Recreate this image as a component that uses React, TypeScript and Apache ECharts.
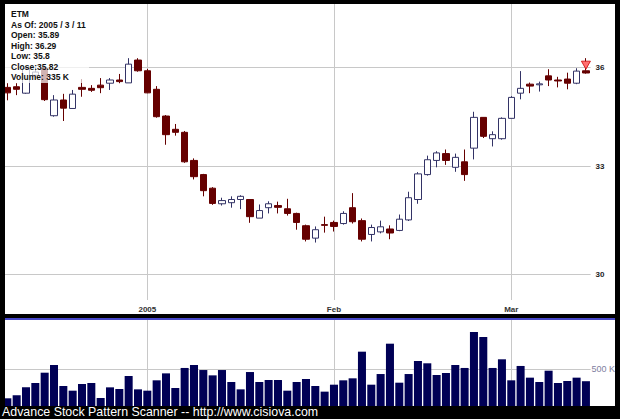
import React, { useEffect, useRef } from "react";
import * as echarts from "echarts";

const dates = [
  "2004-12-10", "2004-12-13", "2004-12-14", "2004-12-15", "2004-12-16", "2004-12-17",
  "2004-12-20", "2004-12-21", "2004-12-22", "2004-12-23", "2004-12-27", "2004-12-28",
  "2004-12-29", "2004-12-30", "2004-12-31",
  "2005-01-03", "2005-01-04", "2005-01-05", "2005-01-06", "2005-01-07", "2005-01-10",
  "2005-01-11", "2005-01-12", "2005-01-13", "2005-01-14", "2005-01-18", "2005-01-19",
  "2005-01-20", "2005-01-21", "2005-01-24", "2005-01-25", "2005-01-26", "2005-01-27",
  "2005-01-28", "2005-01-31",
  "2005-02-01", "2005-02-02", "2005-02-03", "2005-02-04", "2005-02-07", "2005-02-08",
  "2005-02-09", "2005-02-10", "2005-02-11", "2005-02-14", "2005-02-15", "2005-02-16",
  "2005-02-17", "2005-02-18", "2005-02-22", "2005-02-23", "2005-02-24", "2005-02-25",
  "2005-02-28",
  "2005-03-01", "2005-03-02", "2005-03-03", "2005-03-04", "2005-03-07", "2005-03-08",
  "2005-03-09", "2005-03-10", "2005-03-11",
];

const opens = [
  35.37, 35.39, 35.19, 35.75, 35.97, 34.5, 34.98, 34.72, 35.37, 35.34,
  35.44, 35.5, 35.6, 35.51, 36.23, 35.89, 35.31, 34.49, 34.09, 34.0,
  33.17, 32.76, 32.37, 31.93, 31.96, 32.05, 32.05, 31.53, 31.82, 31.88,
  31.79, 31.66, 31.32, 30.98, 31.35, 31.41, 31.38, 31.82, 31.46, 31.08,
  31.15, 31.23, 31.19, 31.48, 32.05, 32.76, 33.17, 33.37, 32.97, 33.13,
  33.53, 34.45, 33.81, 33.81, 34.42, 35.19, 35.47, 35.45, 35.73, 35.6,
  35.63, 35.5, 35.89,
];
const closes = [
  35.2, 35.31, 35.96, 35.85, 34.99, 34.98, 34.73, 35.16, 35.31, 35.28,
  35.36, 35.6, 35.55, 36.1, 35.89, 35.2, 34.47, 33.93, 34.0, 33.13,
  32.7, 32.3, 31.94, 32.02, 32.05, 32.14, 31.57, 31.74, 31.93, 31.83,
  31.66, 31.41, 30.95, 31.21, 31.33, 31.3, 31.66, 31.43, 30.95, 31.27,
  31.29, 31.12, 31.5, 32.1, 32.78, 33.19, 33.39, 33.17, 33.26, 32.76,
  34.45, 33.88, 33.93, 34.42, 35.06, 35.34, 35.41, 35.48, 35.6, 35.57,
  35.5, 35.88, 35.82,
];
const lows = [
  34.97, 35.13, 35.17, 35.6, 34.95, 34.47, 34.34, 34.72, 35.08, 35.23,
  35.19, 35.29, 35.5, 35.51, 35.86, 35.19, 34.44, 33.63, 33.9, 33.1,
  32.62, 32.14, 31.9, 31.88, 31.82, 31.78, 31.4, 31.53, 31.66, 31.66,
  31.6, 31.21, 30.89, 30.86, 31.13, 31.16, 31.35, 31.38, 30.89, 30.89,
  31.11, 30.95, 31.17, 31.45, 31.93, 32.73, 32.97, 33.04, 32.84, 32.58,
  33.2, 33.83, 33.58, 33.78, 34.42, 35.0, 35.19, 35.24, 35.41, 35.37,
  35.31, 35.47, 35.8,
];
const highs = [
  35.5, 35.5, 36.05, 36.0, 36.05, 35.13, 35.17, 35.29, 35.63, 35.44,
  35.66, 35.66, 35.79, 36.29, 36.29, 35.95, 35.41, 34.52, 34.25, 34.04,
  33.23, 32.78, 32.4, 32.1, 32.14, 32.17, 32.05, 31.91, 32.0, 31.99,
  32.07, 31.68, 31.35, 31.3, 31.57, 31.46, 31.72, 32.23, 31.52, 31.35,
  31.46, 31.33, 31.63, 32.27, 32.83, 33.31, 33.44, 33.49, 33.37, 33.49,
  34.62, 34.45, 34.03, 34.45, 35.1, 35.88, 35.52, 35.55, 35.94, 35.7,
  35.83, 35.97, 36.29,
];
const volumesK = [
  104, 144, 252, 311, 450, 554, 270, 207, 297, 311,
  108, 252, 230, 405, 225, 207, 347, 441, 243, 514,
  554, 486, 414, 486, 324, 225, 459, 324, 351, 351,
  207, 324, 365, 270, 194, 288, 347, 374, 734, 288,
  432, 842, 315, 432, 608, 577, 419, 446, 554, 514,
  1000, 932, 514, 631, 347, 541, 383, 324, 477, 311,
  338, 383, 335,
];

const tickDates = ["2005-01-03", "2005-02-01", "2005-03-01"];
const tickLabels = ["2005", "Feb", "Mar"];
const priceGridLevels = [30, 33, 36];
const volumeGridLevels = [500];
const ticker = "ETM";
const asOf = "2005 / 3 / 11";
const footer = "Advance Stock Pattern Scanner -- http://www.cisiova.com";

const FONT = "'Liberation Sans', Arial, Helvetica, sans-serif";

export default function App() {
  const ref = useRef<HTMLDivElement>(null);

  useEffect(() => {
    const el = ref.current;
    if (!el) return;
    const chart = echarts.init(el, null, { renderer: "svg" });
    const last = dates.length - 1;
    const candleData = dates.map((_, i) => [opens[i], closes[i], lows[i], highs[i]]);
    const infoLines = [
      ticker,
      `As Of: ${asOf}`,
      `Open: ${opens[last]}`,
      `High: ${highs[last]}`,
      `Low: ${lows[last]}`,
      `Close:${closes[last]}`,
      `Volume: ${volumesK[last]} K`,
    ];

    const gridLine = { color: "#c8c8c8", width: 1, type: "solid" };

    const option: any = {
      animation: false,
      backgroundColor: "#000000",
      graphic: [
        { type: "rect", z: 0, silent: true, shape: { x: 5, y: 4, width: 610, height: 310 }, style: { fill: "#ffffff" } },
        { type: "rect", z: 0, silent: true, shape: { x: 4, y: 318, width: 611, height: 2 }, style: { fill: "#4848c8" } },
        { type: "rect", z: 0, silent: true, shape: { x: 5, y: 320, width: 610, height: 86 }, style: { fill: "#ffffff" } },
        { type: "rect", z: 50, silent: true, shape: { x: 5, y: 4, width: 84, height: 79 }, style: { fill: "rgba(255,255,255,0.7)" } },
        ...infoLines.map((t, k) => ({
          type: "text",
          z: 51,
          silent: true,
          x: 11,
          y: 14 + k * 10.5,
          style: {
            text: t,
            fill: "#111111",
            fontSize: 8.5,
            fontWeight: "bold",
            fontFamily: FONT,
            align: "left",
            verticalAlign: "middle",
          },
        })),
        { type: "rect", z: 60, silent: true, shape: { x: 0, y: 0, width: 5, height: 419 }, style: { fill: "#000000" } },
        {
          type: "text",
          z: 61,
          silent: true,
          x: 2,
          y: 412,
          style: {
            text: footer,
            fill: "#ffffff",
            fontSize: 12.4,
            fontFamily: FONT,
            align: "left",
            verticalAlign: "middle",
          },
        },
      ],
      grid: [
        { left: 2.667, right: 29.4, top: 4, bottom: 119, containLabel: false, outerBoundsMode: "none" },
        { left: 2.667, right: 29.4, top: 320, bottom: 13, containLabel: false, outerBoundsMode: "none" },
      ],
      xAxis: [
        {
          type: "category",
          gridIndex: 0,
          data: dates,
          boundaryGap: true,
          axisLine: { show: false },
          axisTick: { show: false },
          splitLine: { show: false },
          axisLabel: {
            interval: (_i: number, v: string) => tickDates.includes(v),
            formatter: (v: string) => {
              const k = tickDates.indexOf(v);
              return k >= 0 ? tickLabels[k] : "";
            },
            margin: 5,
            fontSize: 8,
            fontWeight: "bold",
            fontFamily: FONT,
            color: "#333333",
          },
        },
        {
          type: "category",
          gridIndex: 1,
          data: dates,
          boundaryGap: true,
          show: false,
        },
      ],
      yAxis: [
        { type: "log", logBase: 10, gridIndex: 0, min: 29.34, max: 38.06, show: false },
        { type: "value", gridIndex: 1, min: 0, max: 1162, show: false },
      ],
      series: [
        {
          type: "candlestick",
          xAxisIndex: 0,
          yAxisIndex: 0,
          data: candleData,
          barWidth: 7,
          itemStyle: {
            color: "#ffffff",
            color0: "#660000",
            borderColor: "#333366",
            borderColor0: "#660000",
            borderWidth: 1,
          },
          markLine: {
            z: 1,
            silent: true,
            symbol: ["none", "none"],
            lineStyle: gridLine,
            label: {
              show: true,
              position: "end",
              distance: 5,
              formatter: (p: any) => String(p.value),
              color: "#222222",
              fontSize: 8,
              fontWeight: "bold",
              fontFamily: FONT,
            },
            data: [
              ...priceGridLevels.map((v) => ({ yAxis: v })),
              ...tickDates.map((d) => ({ xAxis: d, label: { show: false } })),
            ],
          },
          markPoint: {
            symbol: "triangle",
            symbolSize: [9, 8],
            symbolRotate: 180,
            symbolOffset: [0, 7],
            itemStyle: { color: "#ff7070", borderColor: "#cc0000", borderWidth: 0.8 },
            label: { show: false },
            data: [{ coord: [dates[last], highs[last]] }],
          },
        },
        {
          type: "bar",
          xAxisIndex: 1,
          yAxisIndex: 1,
          data: volumesK,
          barWidth: "86%",
          itemStyle: { color: "#000055" },
          markLine: {
            z: 1,
            silent: true,
            symbol: ["none", "none"],
            lineStyle: gridLine,
            label: {
              show: true,
              position: "end",
              distance: 1,
              formatter: (p: any) => `${p.value} K`,
              color: "#8080a0",
              fontSize: 9,
              fontFamily: FONT,
            },
            data: [
              ...volumeGridLevels.map((v) => ({ yAxis: v })),
              ...tickDates.map((d) => ({ xAxis: d, label: { show: false } })),
            ],
          },
        },
      ],
    };

    chart.setOption(option);
    return () => chart.dispose();
  }, []);

  return (
    <div
      ref={ref}
      style={{ position: "absolute", left: 0, top: 0, width: 620, height: 419, background: "#000" }}
    />
  );
}
